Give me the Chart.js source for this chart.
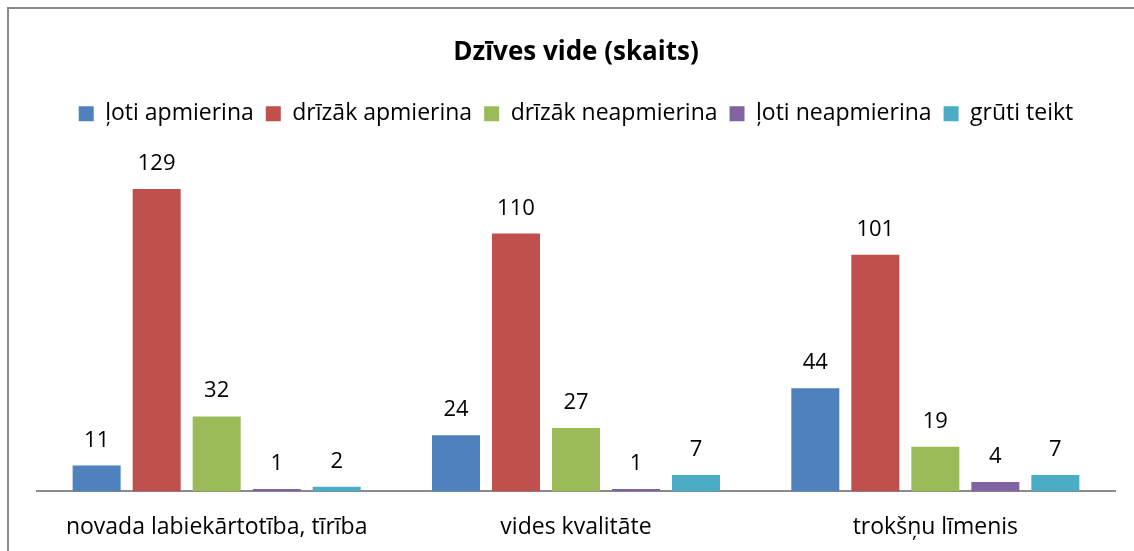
<!DOCTYPE html>
<html>
<head>
<meta charset="utf-8">
<script src="https://cdn.jsdelivr.net/npm/chart.js@4/dist/chart.umd.min.js"></script>
<style>
  html, body { margin: 0; padding: 0; background: #fff; overflow: hidden; }
  #frame { position: absolute; left: 7px; top: 7px; width: 1200px; height: 600px;
           border-left: 2px solid #8a8a8a; border-top: 2px solid #8a8a8a; }
  #wrap { position: absolute; left: 0; top: 0; width: 1134px; height: 551px; }
</style>
</head>
<body>
<div id="frame"></div>
<div id="wrap"><canvas id="chartJSContainer"></canvas></div>
<script>
var categories = ["novada labiekārtotība, tīrība", "vides kvalitāte", "trokšņu līmenis"];
var seriesNames = ["ļoti apmierina", "drīzāk apmierina", "drīzāk neapmierina", "ļoti neapmierina", "grūti teikt"];
var lotiApmierina = [11, 24, 44];
var drizakApmierina = [129, 110, 101];
var drizakNeapmierina = [32, 27, 19];
var lotiNeapmierina = [1, 1, 4];
var grutiTeikt = [2, 7, 7];
var colors = ["#4F81BD", "#C0504D", "#9BBB59", "#8064A2", "#4BACC6"];

var fontFamily = "'Open Sans', sans-serif";
var allValues = [lotiApmierina, drizakApmierina, drizakNeapmierina, lotiNeapmierina, grutiTeikt];

var datasets = [];
for (let i = 0; i < seriesNames.length; i++) {
    datasets.push({
        label: seriesNames[i],
        data: allValues[i],
        backgroundColor: colors[i],
        borderWidth: 0,
        barPercentage: 0.8,
        categoryPercentage: 0.835
    });
}

// draws the value above each bar
const valueLabels = {
    id: 'valueLabels',
    afterDatasetsDraw(chart) {
        const ctx = chart.ctx;
        ctx.save();
        ctx.font = "22px " + fontFamily;
        ctx.fillStyle = "#000";
        ctx.textAlign = "center";
        ctx.textBaseline = "alphabetic";
        chart.data.datasets.forEach((ds, i) => {
            chart.getDatasetMeta(i).data.forEach((bar, j) => {
                ctx.fillText(ds.data[j], bar.x, bar.y - 19);
            });
        });
        ctx.restore();
    }
};

// extra room under the legend
const legendGap = {
    id: 'legendGap',
    beforeInit(chart) {
        const fit = chart.legend.fit;
        chart.legend.fit = function() {
            fit.call(this);
            this.height += 28;
        };
    }
};

window.myChart = new Chart('chartJSContainer', {
    type: 'bar',
    data: { labels: categories, datasets: datasets },
    plugins: [valueLabels, legendGap],
    options: {
        responsive: true,
        maintainAspectRatio: false,
        animation: false,
        layout: { padding: { left: 37, right: 19, top: 0, bottom: -12 } },
        plugins: {
            title: {
                display: true,
                text: "Dzīves vide (skaits)",
                color: "#000",
                font: { family: fontFamily, size: 26, weight: 'bold' },
                padding: { top: 37, bottom: 22 }
            },
            legend: {
                display: true,
                labels: {
                    color: "#000",
                    font: { family: fontFamily, size: 23 },
                    boxWidth: 15,
                    boxHeight: 15,
                    padding: 12
                }
            },
            tooltip: { enabled: false }
        },
        scales: {
            x: {
                grid: { display: false, drawTicks: false },
                border: { display: true, color: "#8a8a8a", width: 2 },
                ticks: { color: "#000", font: { family: fontFamily, size: 23 }, padding: 22 }
            },
            y: {
                display: false,
                min: 0,
                max: 140
            }
        }
    }
});
</script>
</body>
</html>
